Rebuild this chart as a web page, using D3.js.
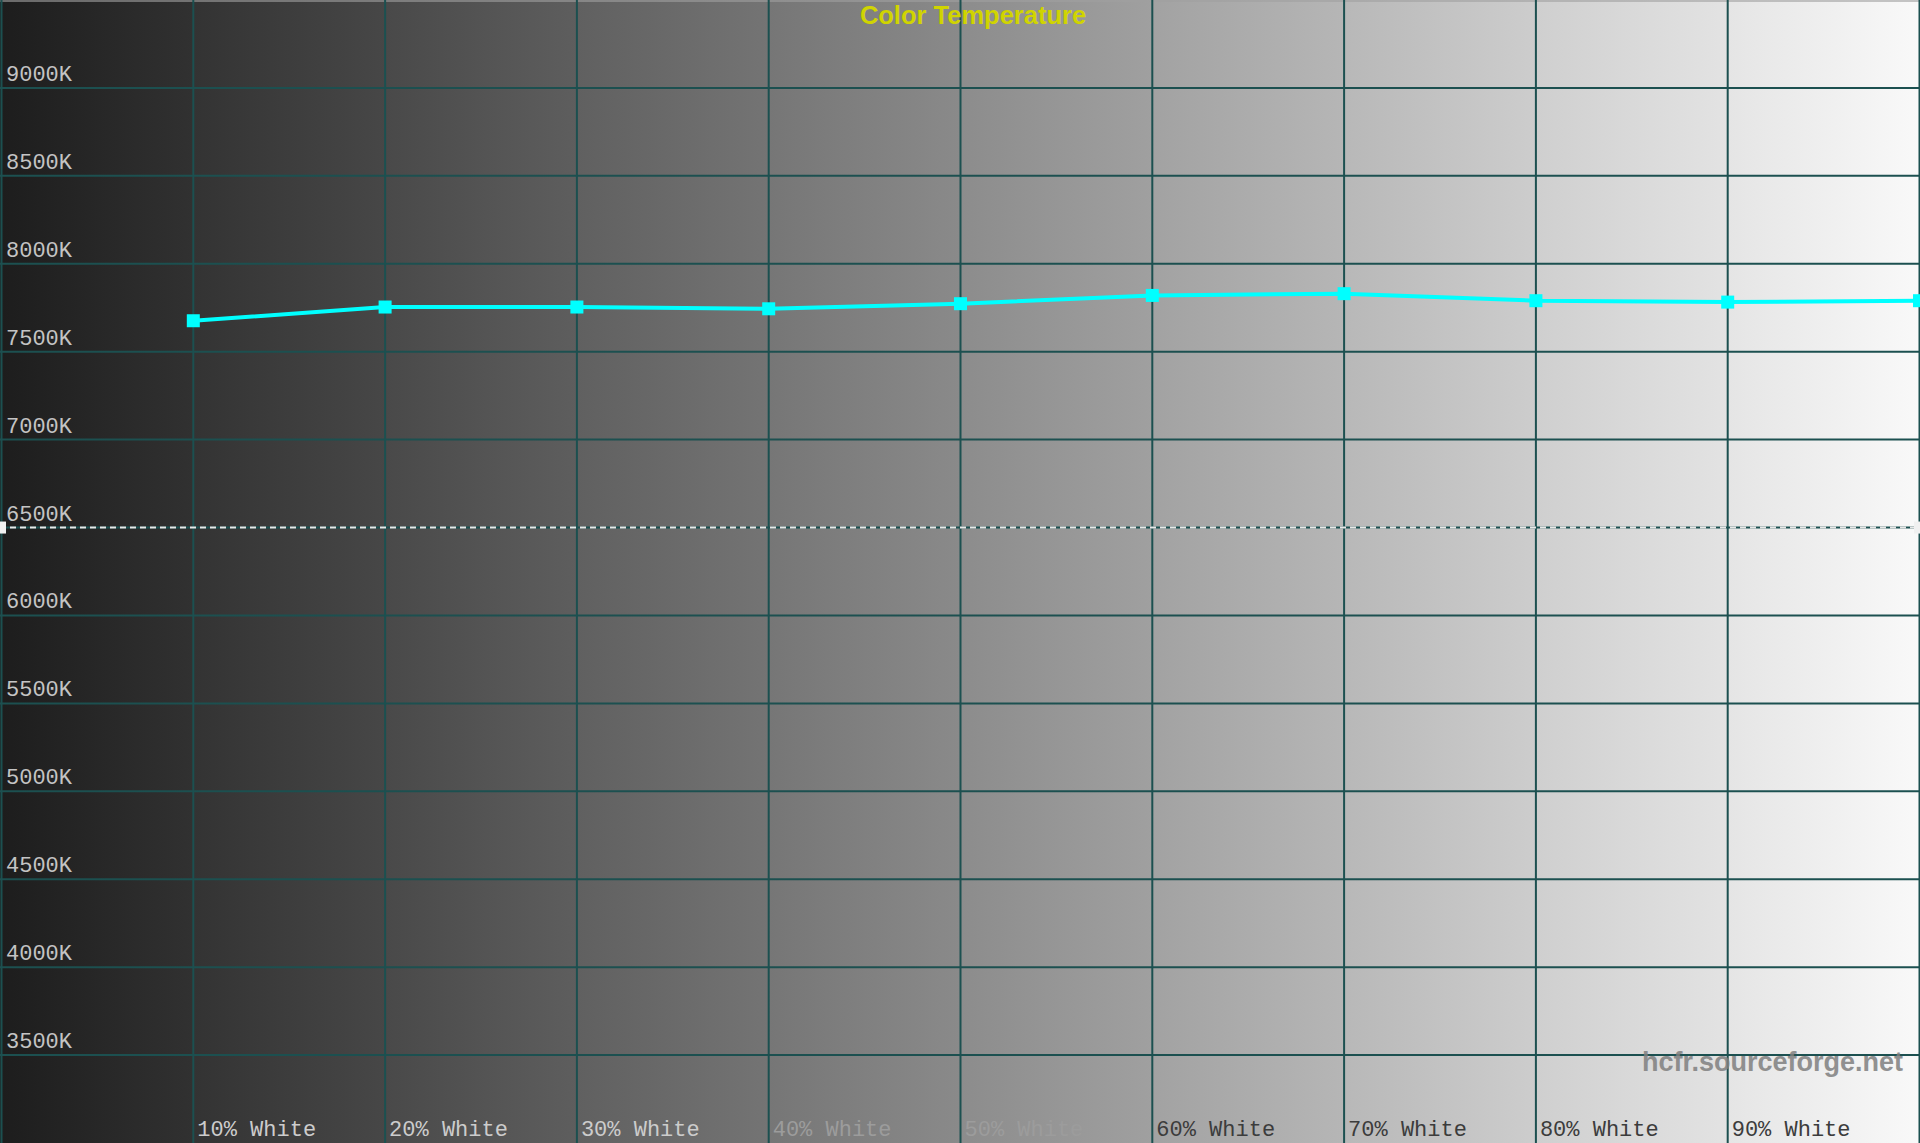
<!DOCTYPE html>
<html lang="en">
<head>
  <meta charset="UTF-8">
  <title>Color Temperature</title>
  <script src="https://d3js.org/d3.v7.min.js"></script>
  <style>
    body {
      margin: 0;
      background: #000;
      overflow: hidden;
    }
    svg { display: block; }
    .tick-label {
      font-family: "Liberation Mono", "DejaVu Sans Mono", monospace;
      font-size: 22px;
    }
  </style>
</head>
<body>
  <svg width="1920" height="1143"></svg>

  <script>
    // readings
    const levels = [10, 20, 30, 40, 50, 60, 70, 80, 90, 100];
    const colorTemps = [7676, 7754, 7754, 7744, 7773, 7820, 7830, 7790, 7782, 7790];
    const xLabels = ["10% White", "20% White", "30% White", "40% White", "50% White",
                     "60% White", "70% White", "80% White", "90% White"];
    const yTicks = [3500, 4000, 4500, 5000, 5500, 6000, 6500, 7000, 7500, 8000, 8500, 9000];
    const target = 6500;

    const width = 1920, height = 1143;
    const svg = d3.select("svg");

    const x = d3.scaleLinear().domain([0, 100]).range([1.5, 1919.5]);
    const y = d3.scaleLinear().domain([3000, 9500]).range([height, 0]);

    // grey ramp background, one band per 10% column
    const defs = svg.append("defs");
    const bands = d3.range(10);
    const grey = v => d3.rgb(v, v, v).toString();
    bands.forEach(i => {
      const g = defs.append("linearGradient").attr("id", "band" + i);
      g.append("stop").attr("offset", "0%").attr("stop-color", grey(29 + 22.2 * i));
      g.append("stop").attr("offset", "100%").attr("stop-color", grey(27 + 22.2 * (i + 1)));
    });
    svg.selectAll("rect.band")
      .data(bands)
      .enter()
      .append("rect")
      .attr("class", "band")
      .attr("x", i => x(i * 10))
      .attr("y", 0)
      .attr("width", i => x((i + 1) * 10) - x(i * 10) + 1)
      .attr("height", height)
      .attr("fill", i => `url(#band${i})`);
    svg.append("rect")
      .attr("x", 0).attr("y", 0)
      .attr("width", 1.5).attr("height", height)
      .attr("fill", grey(29));

    // top border strip
    svg.append("rect")
      .attr("x", 0).attr("y", 0)
      .attr("width", width).attr("height", 2)
      .attr("fill", "#a0a0a0")
      .attr("opacity", 0.6);

    // grid
    const gridColor = "#1c5050";
    svg.append("g")
      .selectAll("line")
      .data(yTicks)
      .enter()
      .append("line")
      .attr("x1", 0).attr("x2", width)
      .attr("y1", d => y(d)).attr("y2", d => y(d))
      .attr("stroke", gridColor)
      .attr("stroke-width", 2);

    svg.append("g")
      .selectAll("line")
      .data(d3.range(0, 101, 10))
      .enter()
      .append("line")
      .attr("x1", d => x(d)).attr("x2", d => x(d))
      .attr("y1", 0).attr("y2", height)
      .attr("stroke", gridColor)
      .attr("stroke-width", 2);

    // 6500K reference line
    svg.append("line")
      .attr("x1", 0).attr("x2", width)
      .attr("y1", y(target)).attr("y2", y(target))
      .attr("stroke", "#e8e8e8")
      .attr("stroke-width", 2)
      .attr("stroke-dasharray", "6,4");
    [0, width - 6].forEach(px => {
      svg.append("rect")
        .attr("x", px).attr("y", y(target) - 6)
        .attr("width", 6).attr("height", 12)
        .attr("fill", "#f0f0f0");
    });

    // y labels
    svg.append("g")
      .selectAll("text")
      .data(yTicks)
      .enter()
      .append("text")
      .attr("class", "tick-label")
      .attr("x", 6)
      .attr("y", d => y(d) - 7)
      .attr("fill", "#c4c4c4")
      .text(d => d + "K");

    // x labels
    svg.append("g")
      .selectAll("text")
      .data(xLabels)
      .enter()
      .append("text")
      .attr("class", "tick-label")
      .attr("x", (d, i) => x(levels[i]) + 4)
      .attr("y", 1136)
      .attr("fill", (d, i) => i < 3 ? "#cccccc" : i < 5 ? "#9c9c9c" : "#3c3c3c")
      .text(d => d);

    // measured line
    const pts = levels.map((l, i) => [l, colorTemps[i]]);
    svg.append("path")
      .datum(pts)
      .attr("fill", "none")
      .attr("stroke", "#00ffff")
      .attr("stroke-width", 4)
      .attr("d", d3.line().x(d => x(d[0])).y(d => y(d[1])));

    svg.selectAll("rect.marker")
      .data(pts)
      .enter()
      .append("rect")
      .attr("class", "marker")
      .attr("x", d => x(d[0]) - 6.5)
      .attr("y", d => y(d[1]) - 6.5)
      .attr("width", 13)
      .attr("height", 13)
      .attr("fill", "#00ffff");

    // title
    svg.append("text")
      .attr("x", 973)
      .attr("y", 24)
      .attr("text-anchor", "middle")
      .attr("font-family", "Liberation Sans, Arial, sans-serif")
      .attr("font-weight", "bold")
      .attr("font-size", "25.5px")
      .attr("fill", "#d0d400")
      .text("Color Temperature");

    // watermark
    svg.append("text")
      .attr("x", 1903)
      .attr("y", 1071)
      .attr("text-anchor", "end")
      .attr("font-family", "Liberation Sans, Arial, sans-serif")
      .attr("font-weight", "bold")
      .attr("font-size", "27px")
      .attr("fill", "#808080")
      .attr("opacity", 0.85)
      .text("hcfr.sourceforge.net");
  </script>
</body>
</html>
